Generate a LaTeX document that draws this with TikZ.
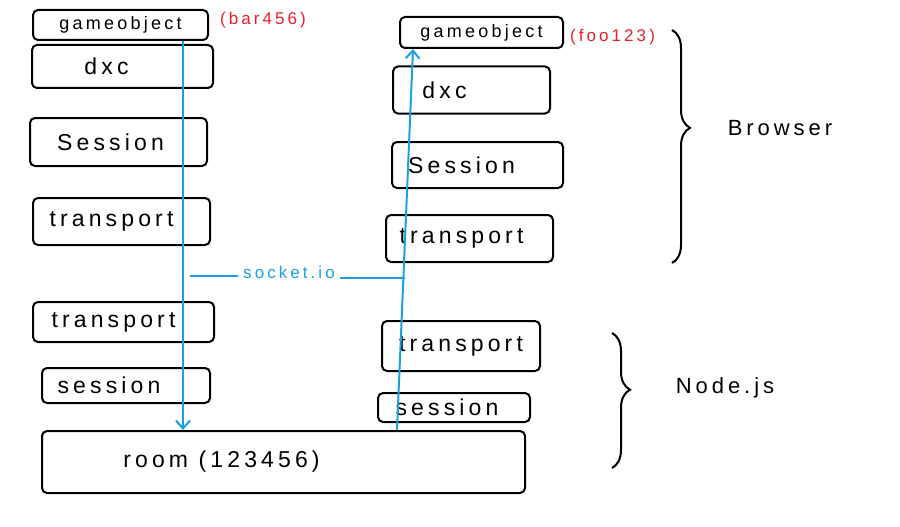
\documentclass[tikz,border=0pt]{standalone}
\usepackage{fontspec}
\setmainfont{Liberation Sans}[LetterSpace=18]
\usetikzlibrary{arrows.meta,decorations.pathreplacing}
\definecolor{skyb}{HTML}{1BA1E2}
\definecolor{inkred}{HTML}{E8202A}
\newcommand{\lpad}[1]{\hspace*{#1pt}}
\begin{document}
\begin{tikzpicture}[x=1pt,y=-1pt,
  layer/.style={draw=black,line width=2pt,rounded corners=5pt,inner sep=0pt,font=\fontsize{23}{25}\selectfont},
  small/.style={font=\fontsize{18}{20}\selectfont},
  redlab/.style={text=inkred,inner sep=0pt,font=\fontsize{17}{19}\selectfont},
  wire/.style={draw=skyb,line width=2pt},
  arr/.style={wire,-{Straight Barb[length=8pt,width=14pt]}},
  bracestyle/.style={draw=black,line width=2pt,decorate}
]
\useasboundingbox (0,0) rectangle (900,527);
% left column
\node[layer,small,minimum width=175pt,minimum height=30pt] (lgo) at (120.5,25) {gameobject};
\node[layer,minimum width=181pt,minimum height=43pt] (ldxc) at (122.5,66.5) {dxc\lpad{32}};
\node[layer,minimum width=177pt,minimum height=48pt] (lses) at (118.5,142) {Session\lpad{16}};
\node[layer,minimum width=177pt,minimum height=47pt] (ltr) at (121.5,221.5) {transport\lpad{20}};
\node[layer,minimum width=181pt,minimum height=40pt] (ltr2) at (123.5,322) {transport\lpad{20}};
\node[layer,minimum width=168pt,minimum height=35pt] (lses2) at (126,385.5) {session\lpad{34}};
\node[layer,minimum width=483pt,minimum height=62pt] (room) at (283.5,462) {room (123456)\lpad{124}};
% right column
\node[layer,small,minimum width=163pt,minimum height=31pt] (rgo) at (481.5,32.5) {gameobject};
\node[layer,minimum width=157pt,minimum height=47pt] (rdxc) at (471.5,90) {dxc\lpad{54}};
\node[layer,minimum width=171pt,minimum height=46pt] (rses) at (477.5,165) {Session\lpad{32}};
\node[layer,minimum width=167pt,minimum height=47pt] (rtr) at (469.5,238.5) {transport\lpad{16}};
\node[layer,minimum width=158pt,minimum height=50pt] (rtr2) at (461,346) {transport};
\node[layer,minimum width=152pt,minimum height=29pt] (rses2) at (454,407.5) {session\lpad{14}};
% red labels
\node[redlab,anchor=west] (lid) at (220,20) {(bar456)};
\node[redlab,anchor=west] (rid) at (570,37) {(foo123)};
% blue flows
\coordinate (lx) at (183,0);
\coordinate (rb) at (397,0);
\coordinate (rt) at (413,0);
\draw[arr] (lgo.south -| lx) -- (room.north -| lx);
\draw[arr] (room.north -| rb) -- (rgo.south -| rt);
\node[text=skyb,inner sep=5pt,font=\fontsize{17}{19}\selectfont] (sock) at (289,272) {socket.io};
\coordinate (sl) at (190,276);
\coordinate (sr) at (405,278);
\draw[wire] (sl) -- (sock.west |- sl);
\draw[wire] (sock.east |- sr) -- (sr);
% braces
\coordinate (bt) at (672,30);
\coordinate (bb) at (672,263);
\draw[bracestyle,decoration={brace,amplitude=18pt,aspect=0.42}] (bt) -- (bb);
\node[inner sep=0pt,font=\fontsize{22}{24}\selectfont] (browser) at (780,128) {Browser};
\coordinate (nt) at (612,333);
\coordinate (nb) at (612,468);
\draw[bracestyle,decoration={brace,amplitude=18pt,aspect=0.42}] (nt) -- (nb);
\node[inner sep=0pt,font=\fontsize{22}{24}\selectfont] (nodejs) at (725,388) {Node.js};
\end{tikzpicture}
\end{document}
